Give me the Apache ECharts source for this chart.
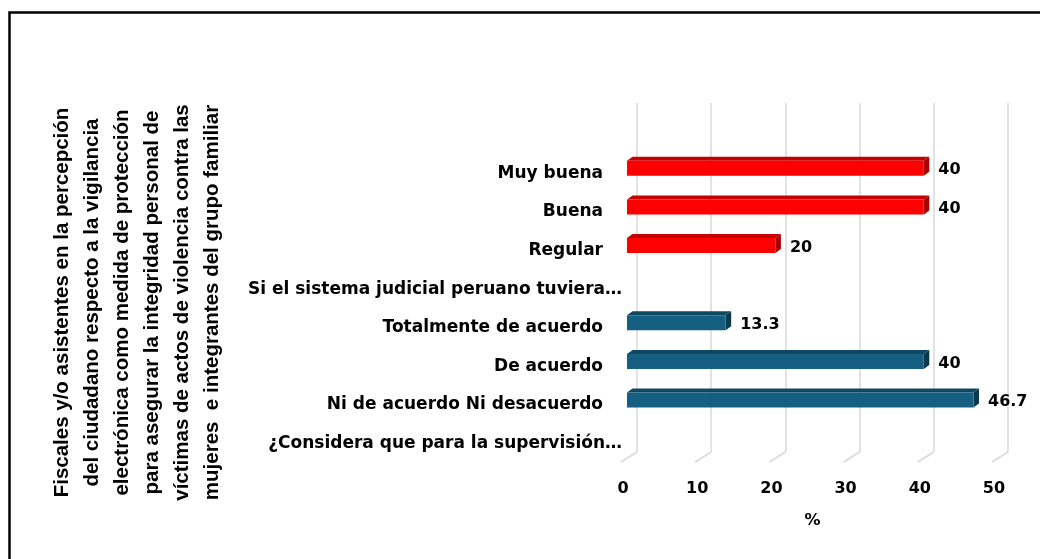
<!DOCTYPE html>
<html>
<head>
<meta charset="utf-8">
<script src="https://cdn.jsdelivr.net/npm/echarts@6/dist/echarts.min.js"></script>
<style>
    html, body { margin: 0; padding: 0; background: #fff; }
    #chart { width: 1040px; height: 559px; }
</style>
</head>
<body>
<div id="chart"></div>
<script>
// 数据
const categories = [
    'Muy buena',
    'Buena',
    'Regular',
    'Si el sistema judicial peruano tuviera…',
    'Totalmente de acuerdo',
    'De acuerdo',
    'Ni de acuerdo Ni desacuerdo',
    '¿Considera que para la supervisión…'
];
const headerRows = [3, 7];
const percepcionValues = [40, 40, 20, null, null, null, null, null];
const acuerdoValues = [null, null, null, null, 13.3, 40, 46.7, null];
const xTicks = [0, 10, 20, 30, 40, 50];
const yTitleLines = [
    'Fiscales y/o asistentes en la percepción',
    'del ciudadano respecto a la vigilancia',
    'electrónica como medida de protección',
    'para asegurar la integridad personal de',
    'víctimas de actos de violencia contra las',
    'mujeres  e integrantes del grupo familiar'
];

const LABEL_FONT = '"DejaVu Sans", sans-serif';
const red = { front: '#ff0000', top: '#c40000', side: '#a80000' };
const blue = { front: '#156082', top: '#0f4862', side: '#0b3a50' };

function toPoints(values) {
    const out = [];
    values.forEach((v, i) => { if (v != null) out.push([v, i]); });
    return out;
}

// 伪3D横条
function bar3d(color) {
    return function (params, api) {
        const v = api.value(0);
        const cat = api.value(1);
        const p0 = api.coord([0, cat]);
        const p1 = api.coord([v, cat]);
        const band = api.size([0, 1])[1];
        const h = band * 0.39;
        const dx = 5.5, dy = 4;
        const yc = p0[1] - 5;
        const x0 = p0[0], x1 = p1[0];
        const yt = yc - h / 2, yb = yc + h / 2;
        return {
            type: 'group',
            children: [
                { type: 'polygon', shape: { points: [[x0, yt], [x0 + dx, yt - dy], [x1 + dx, yt - dy], [x1, yt]] }, style: { fill: color.top } },
                { type: 'polygon', shape: { points: [[x1, yt], [x1 + dx, yt - dy], [x1 + dx, yb - dy], [x1, yb]] }, style: { fill: color.side } },
                { type: 'rect', shape: { x: x0, y: yt, width: x1 - x0, height: h }, style: { fill: color.front } },
                {
                    type: 'text',
                    style: {
                        text: String(v), x: x1 + dx + 9, y: yc + 2,
                        align: 'left', verticalAlign: 'middle',
                        font: 'bold 16px ' + LABEL_FONT, fill: '#000'
                    }
                }
            ]
        };
    };
}

const chart = echarts.init(document.getElementById('chart'));

chart.setOption({
    animation: false,
    backgroundColor: '#fff',
    graphic: [{
        type: 'rect',
        shape: { x: 9.5, y: 12.5, width: 1200, height: 700 },
        style: { fill: 'none', stroke: '#000', lineWidth: 2.5 },
        silent: true
    }],
    grid: [
        { left: 627, top: 154, width: 371, height: 309 },
        { left: 637, top: 103, width: 371, height: 349 }
    ],
    xAxis: [{
        gridIndex: 0,
        type: 'value',
        min: 0, max: 50, interval: 10,
        axisLine: { show: false },
        axisTick: { show: false },
        splitLine: { show: false },
        axisLabel: {
            margin: 18,
            padding: [0, 8, 0, 0],
            color: '#000',
            fontFamily: LABEL_FONT,
            fontWeight: 'bold',
            fontSize: 16
        },
        name: '%',
        nameLocation: 'middle',
        nameGap: 50,
        nameTextStyle: { color: '#000', fontFamily: LABEL_FONT, fontWeight: 'bold', fontSize: 16 }
    }, {
        gridIndex: 1,
        type: 'value',
        min: 0, max: 50, interval: 10,
        axisLine: { show: false },
        axisTick: { show: false },
        axisLabel: { show: false },
        splitLine: { show: true, lineStyle: { color: '#d9d9d9', width: 1.5 } }
    }],
    yAxis: [{
        gridIndex: 0,
        type: 'category',
        inverse: true,
        data: categories,
        axisLine: { show: false },
        axisTick: { show: false },
        axisLabel: {
            margin: 5,
            formatter: function (value, idx) {
                return headerRows.indexOf(idx) >= 0 ? '{h|' + value + '}' : '{n|' + value + '}';
            },
            rich: {
                n: { padding: [0, 19, 0, 0], color: '#000', fontFamily: LABEL_FONT, fontWeight: 'bold', fontSize: 17 },
                h: { color: '#000', fontFamily: LABEL_FONT, fontWeight: 'bold', fontSize: 17 }
            }
        },
        name: yTitleLines.join('\n'),
        nameLocation: 'middle',
        nameRotate: 90,
        nameGap: 400,
        nameTextStyle: {
            color: '#000',
            fontFamily: '"Liberation Sans", Arial, sans-serif',
            fontWeight: 'bold',
            fontSize: 20.5,
            lineHeight: 30,
            align: 'center',
            padding: [0, 0, 0, 12]
        }
    }, {
        gridIndex: 1,
        type: 'value',
        min: 0, max: 1,
        show: false
    }],
    series: [{
        name: 'piso',
        type: 'custom',
        xAxisIndex: 1, yAxisIndex: 1,
        silent: true,
        z: 1,
        data: xTicks.map(t => [t, 0]),
        renderItem: function (params, api) {
            const p = api.coord([api.value(0), 0]);
            return {
                type: 'line',
                shape: { x1: p[0], y1: p[1], x2: p[0] - 16, y2: p[1] + 10 },
                style: { stroke: '#d9d9d9', lineWidth: 1.5 }
            };
        }
    }, {
        name: 'Percepción',
        type: 'custom',
        xAxisIndex: 0, yAxisIndex: 0,
        z: 3,
        encode: { x: 0, y: 1 },
        data: toPoints(percepcionValues),
        renderItem: bar3d(red)
    }, {
        name: 'Acuerdo',
        type: 'custom',
        xAxisIndex: 0, yAxisIndex: 0,
        z: 3,
        encode: { x: 0, y: 1 },
        data: toPoints(acuerdoValues),
        renderItem: bar3d(blue)
    }]
});
</script>
</body>
</html>
